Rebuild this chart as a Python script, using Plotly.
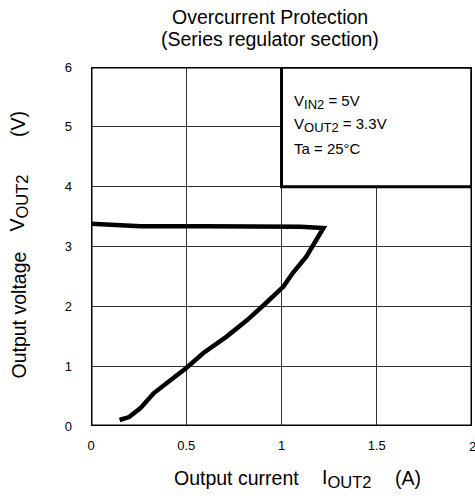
import plotly.graph_objects as go

# Output current (A) and output voltage (V) along the foldback curve
current_a = [0.0, 0.10, 0.26, 0.60, 1.00, 1.10, 1.22,
             1.19, 1.13, 1.06, 1.01, 0.92, 0.82, 0.71, 0.59,
             0.50, 0.41, 0.33, 0.26, 0.20, 0.15]
voltage_v = [3.38, 3.37, 3.34, 3.34, 3.34, 3.33, 3.31,
             3.16, 2.83, 2.56, 2.33, 2.06, 1.77, 1.49, 1.22,
             0.97, 0.74, 0.55, 0.30, 0.15, 0.10]

x_ticks = [0, 0.5, 1, 1.5, 2]
x_tick_text = ["0", "0.5", "1", "1.5", "2"]
y_ticks = [0, 1, 2, 3, 4, 5, 6]

title_lines = ["Overcurrent Protection", "(Series regulator section)"]
SUB_BOX = "<sub><span style='font-size:13px'>{}</span></sub>"
SUB_AXIS = "<sub><span style='font-size:16.5px'>{}</span></sub>"
conditions = ["V" + SUB_BOX.format("IN2") + " = 5V",
              "V" + SUB_BOX.format("OUT2") + " = 3.3V",
              "Ta = 25°C"]
x_title_parts = ["Output current", "I" + SUB_AXIS.format("OUT2"), "(A)"]
y_title_parts = ["Output voltage", "V" + SUB_AXIS.format("OUT2"), "(V)"]

FONT = "Liberation Sans, Arial, sans-serif"
W, H = 475, 496
L, R, T, B = 91, 3, 67, 70
PW, PH = W - L - R, H - T - B

fig = go.Figure()
fig.add_trace(go.Scatter(
    x=current_a, y=voltage_v, mode="lines",
    line=dict(color="black", width=4.5),
    showlegend=False, hoverinfo="skip",
))

# Conditions box in the upper-right quadrant
fig.add_shape(type="rect", xref="x", yref="y", x0=1, x1=2, y0=4, y1=6,
              fillcolor="white", line=dict(color="black", width=3), layer="above")
for i, t in enumerate(conditions):
    fig.add_annotation(xref="x", yref="y", x=1.055, y=5.42 - i * 0.395, text=t,
                       showarrow=False, xanchor="left", yanchor="middle",
                       font=dict(family=FONT, size=15, color="black"))

# Outer frame
fig.add_shape(type="rect", xref="x", yref="y", x0=0, x1=2, y0=0, y1=6,
              line=dict(color="black", width=3), layer="above")

# Two-line title
for i, t in enumerate(title_lines):
    fig.add_annotation(xref="paper", yref="paper", x=(270 - L) / PW,
                       y=1 + (T - (17 + 22 * i)) / PH, text=t,
                       showarrow=False, xanchor="center", yanchor="middle",
                       font=dict(family=FONT, size=19.5, color="black"))

# X axis title pieces (left edges in pixels)
for t, left in zip(x_title_parts, [172, 320, 393]):
    fig.add_annotation(xref="paper", yref="paper",
                       x=(left - L) / PW, y=-(478 - (H - B)) / PH,
                       text=t, showarrow=False, xanchor="left", yanchor="middle",
                       font=dict(family=FONT, size=19.5, color="black"))

# Y axis title pieces (bottom edges in pixels, rotated text)
for t, bottom in zip(y_title_parts, [381, 234, 139]):
    fig.add_annotation(xref="paper", yref="paper",
                       x=-(L - 18) / PW, y=((H - B) - bottom) / PH,
                       text=t, showarrow=False, textangle=-90,
                       xanchor="center", yanchor="bottom",
                       font=dict(family=FONT, size=19.5, color="black"))

# Last x tick label sits on the right edge of the page
fig.add_annotation(xref="x", yref="paper", x=x_ticks[-1], y=-(446 - (H - B)) / PH,
                   text=x_tick_text[-1], showarrow=False,
                   xanchor="center", yanchor="middle",
                   font=dict(family=FONT, size=13, color="black"))

fig.update_layout(
    width=W, height=H,
    margin=dict(l=L, r=R, t=T, b=B),
    paper_bgcolor="white", plot_bgcolor="white",
    font=dict(family=FONT, color="black"),
)
fig.update_xaxes(
    range=[0, 2], tickvals=x_ticks[:-1], ticktext=x_tick_text[:-1],
    showgrid=True, gridcolor="#333333", gridwidth=0.8,
    zeroline=False, showline=False, ticks="",
    ticklabelstandoff=10,
    tickfont=dict(family=FONT, size=13, color="black"),
)
fig.update_yaxes(
    range=[0, 6], tickvals=y_ticks,
    showgrid=True, gridcolor="#333333", gridwidth=0.8,
    zeroline=False, showline=False, ticks="",
    ticklabelstandoff=18,
    tickfont=dict(family=FONT, size=13, color="black"),
)

fig.write_html("out.html")
